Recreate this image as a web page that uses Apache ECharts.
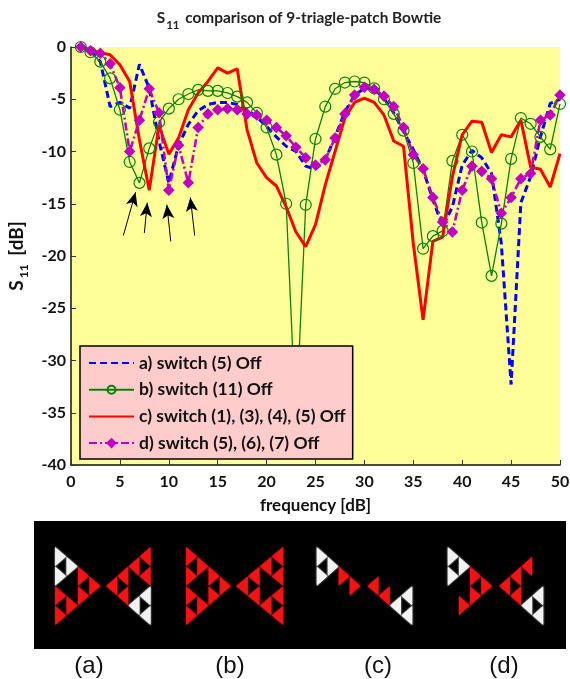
<!DOCTYPE html>
<html><head><meta charset="utf-8">
<style>html,body{margin:0;padding:0;background:#fff}#c{width:570px;height:679px}</style>
<script src="https://cdn.jsdelivr.net/npm/echarts@6/dist/echarts.min.js"></script>
</head><body><div id="c"></div>
<script>
const frequency = Array.from({length:50},(_, i)=>i+1);
const switch5 = [0,-0.4,-1.4,-5.7,-5.3,-5.85,-1.65,-3.95,-9,-13,-9.4,-7.4,-6.1,-5.5,-5.3,-5.3,-5.5,-6,-6.7,-7.6,-8.6,-9.5,-10,-11.4,-11.7,-10.8,-8.6,-6.2,-4.6,-3.95,-4.05,-4.9,-6.3,-8.1,-9.8,-11.75,-14.6,-17.2,-15.3,-11.3,-9.9,-10.6,-12.1,-18.8,-32.3,-14.9,-12.4,-8.6,-5.4,-5];
const switch11 = [0,-0.5,-1.4,-3,-6,-11,-13,-9.7,-7.2,-5.9,-5,-4.5,-4.1,-4.2,-4.2,-4.4,-4.75,-5.3,-6.3,-7.7,-10.3,-15,-36,-15.1,-8.8,-5.7,-4,-3.4,-3.3,-3.4,-3.95,-5,-6.4,-8,-11.1,-19.3,-18.1,-17.6,-10.9,-8.4,-10,-16.8,-21.9,-16.9,-10.7,-6.8,-7.35,-8.6,-9.8,-5.45];
const switch1345 = [0,-0.3,-0.55,-0.75,-1.7,-3.3,-8.9,-13.7,-7.5,-10.25,-8.7,-6,-4.4,-3.3,-2,-2.5,-2.1,-7.9,-11.1,-12.5,-13.3,-15.3,-17.7,-19.1,-17,-13.2,-10,-6.8,-5.3,-4.9,-5.3,-6.5,-9,-9.5,-18.8,-26.1,-18.6,-18.2,-12.4,-8.4,-7.1,-7.2,-10.1,-8.4,-8.6,-7,-11.5,-11.7,-13.4,-10.2];
const switch567 = [0,-0.35,-0.6,-1.6,-3.9,-10,-7,-4,-6.3,-13.7,-9.4,-13,-7.7,-6.4,-6,-5.9,-6,-6.4,-6.5,-7,-7.7,-8.5,-9.6,-10.6,-11.3,-10.8,-8.7,-6.4,-4.6,-3.85,-4.05,-4.7,-5.7,-7.7,-10.3,-11.65,-14.4,-16.75,-17.7,-13.7,-11.4,-11.9,-12.6,-15.9,-14.4,-12.6,-12.1,-7,-6.5,-4.6];
const seriesNames = ['a) switch (5) Off','b) switch (11) Off','c) switch (1), (3), (4), (5) Off','d) switch (5), (6), (7) Off'];
const arrows = [[5.35,-18.05,6.6,-13.9],[7.5,-17.8,7.8,-14.9],[10.2,-18.6,9.8,-15.1],[12.65,-18.05,12.2,-14.4]];
const panelLabels = ['(a)','(b)','(c)','(d)'];

const zip = v => v.map((y,i)=>[frequency[i],y]);
const font = 'Lato';

/* Bowtie pictures: each wing is a 9-triangle Sierpinski pattern; r red, w white, - removed.
   Slots: top corner (3), bottom corner (3), inner corner (3). */
const slots = [[0,-1.5],[0,-.5],[1,-1],[0,.5],[0,1.5],[1,1],[2,-.5],[2,.5],[3,0]];
const panels = [
 {l:[55,100.7], r:[150.7,106], lp:'wwwrrrrrr', rp:'rrrwwwrrr'},
 {l:[186,231], r:[283.3,236], lp:'rrrrrrrrr', rp:'rrrrrrrrr'},
 {l:[316.7,360.7], r:[412.3,367.3], lp:'www---r-r', rp:'---www-rr'},
 {l:[447.7,492.3], r:[543.3,499], lp:'www--rrrr', rp:'--rwwwrrr'}
];
const cy=586, u=19.6, inset=0.98;
const gfx=[{type:'rect',shape:{x:34,y:521,width:532,height:128},style:{fill:'#000'}}];
function wing([x0,apex],pat){
  const w=(apex-x0)/4;
  slots.forEach(([c,k],i)=>{
    if(pat[i]==='-')return;
    const col=pat[i]==='w'?'#F2F2F2':'#F01414';
    const y=cy+k*u, xa=x0+c*w, gx=xa+w/3;
    const pts=[[xa,y-u/2],[xa,y+u/2],[xa+w,y]].map(([px,py])=>[gx+(px-gx)*inset,y+(py-y)*inset]);
    gfx.push({type:'polygon',shape:{points:pts},style:{fill:col,shadowBlur:2,shadowColor:col}});
  });
}
panels.forEach(p=>{wing(p.l,p.lp);wing(p.r,p.rp);});
[89,230,378,504].forEach((x,i)=>gfx.push({type:'text',x:x,y:666,
  style:{text:panelLabels[i],font:'24px "Liberation Sans"',fill:'#111',textAlign:'center',textVerticalAlign:'middle'}}));

const chart=echarts.init(document.getElementById('c'),null,{renderer:'canvas'});
const noMark={color:'rgba(0,0,0,0)',borderWidth:0};
chart.setOption({
 animation:false,
 title:{text:'{b|S}{s|11}{b| comparison of 9-triagle-patch Bowtie}',left:294,top:1,textAlign:'center',
   textStyle:{rich:{b:{fontFamily:font,fontWeight:'bold',fontSize:15.4,color:'#222'},
     s:{fontFamily:font,fontWeight:'bold',fontSize:11.5,color:'#222',verticalAlign:'bottom',padding:[13,2,0,1]}}}},
 grid:{left:71,right:10,top:47,bottom:214,show:true,backgroundColor:'#FFFF99',borderWidth:0,outerBoundsMode:'none'},
 legend:{data:[{name:seriesNames[0],itemStyle:noMark},{name:seriesNames[1]},{name:seriesNames[2],itemStyle:noMark},{name:seriesNames[3]}],
   orient:'vertical',left:80,top:346,padding:[8,7,7,8],itemGap:8.7,itemWidth:45,itemHeight:10,
   backgroundColor:'#FFCCCC',borderColor:'#000',borderWidth:1.5,borderRadius:0,
   textStyle:{fontFamily:font,fontWeight:'bold',fontSize:17.5,color:'#111',lineHeight:18}},
 xAxis:{type:'value',min:0,max:50,interval:5,splitLine:{show:false},
   axisLine:{show:true,onZero:false,lineStyle:{color:'#111',width:1.5}},
   axisTick:{show:true,inside:true,length:5,lineStyle:{color:'#333'}},
   axisLabel:{fontFamily:font,fontWeight:'bold',fontSize:16,color:'#111',margin:9,showMaxLabel:true},
   name:'frequency [dB]',nameLocation:'middle',nameGap:32,
   nameTextStyle:{fontFamily:font,fontWeight:'bold',fontSize:17,color:'#111'}},
 yAxis:{type:'value',min:-40,max:0,interval:5,splitLine:{show:false},
   axisLine:{show:true,onZero:false,lineStyle:{color:'#111',width:1.5}},
   axisTick:{show:true,inside:true,length:5,lineStyle:{color:'#333'}},
   axisLabel:{fontFamily:font,fontWeight:'bold',fontSize:16,color:'#111',margin:5},
   name:'{b|S}{s|11}{b| [dB]}',nameLocation:'middle',nameGap:37,nameRotate:90,
   nameTextStyle:{rich:{b:{fontFamily:font,fontWeight:'bold',fontSize:19,color:'#111'},
     s:{fontFamily:font,fontWeight:'bold',fontSize:12,color:'#111',verticalAlign:'bottom',padding:[15,4,0,2]}}}},
 series:[
  {name:seriesNames[0],type:'line',data:zip(switch5),showSymbol:false,symbol:'none',
   lineStyle:{color:'#0000FF',width:3,type:[7,4]},itemStyle:{color:'#0000FF'}},
  {name:seriesNames[1],type:'line',data:zip(switch11),symbol:'circle',symbolSize:11,showSymbol:true,
   lineStyle:{color:'#0A800A',width:1.3},itemStyle:{color:'rgba(0,0,0,0)',borderColor:'#0A800A',borderWidth:1.2}},
  {name:seriesNames[2],type:'line',data:zip(switch1345),symbol:'none',
   lineStyle:{color:'#FF0000',width:3},itemStyle:{color:'#FF0000'}},
  {name:seriesNames[3],type:'line',data:zip(switch567),symbol:'diamond',symbolSize:9,showSymbol:true,
   lineStyle:{color:'#BF00BF',width:2.6,type:[8,3,2,3]},itemStyle:{color:'#BF00BF',borderColor:'#BF00BF',borderWidth:1.8}},
  {type:'line',data:[],silent:true,markLine:{silent:true,animation:false,label:{show:false},
    lineStyle:{color:'#000',width:1,type:'solid'},
    data:arrows.map(a=>[{coord:[a[0],a[1]],symbol:'none'},{coord:[a[2],a[3]],symbol:'arrow',symbolSize:[9,14]}])}}
 ],
 graphic:gfx
});
</script></body></html>
